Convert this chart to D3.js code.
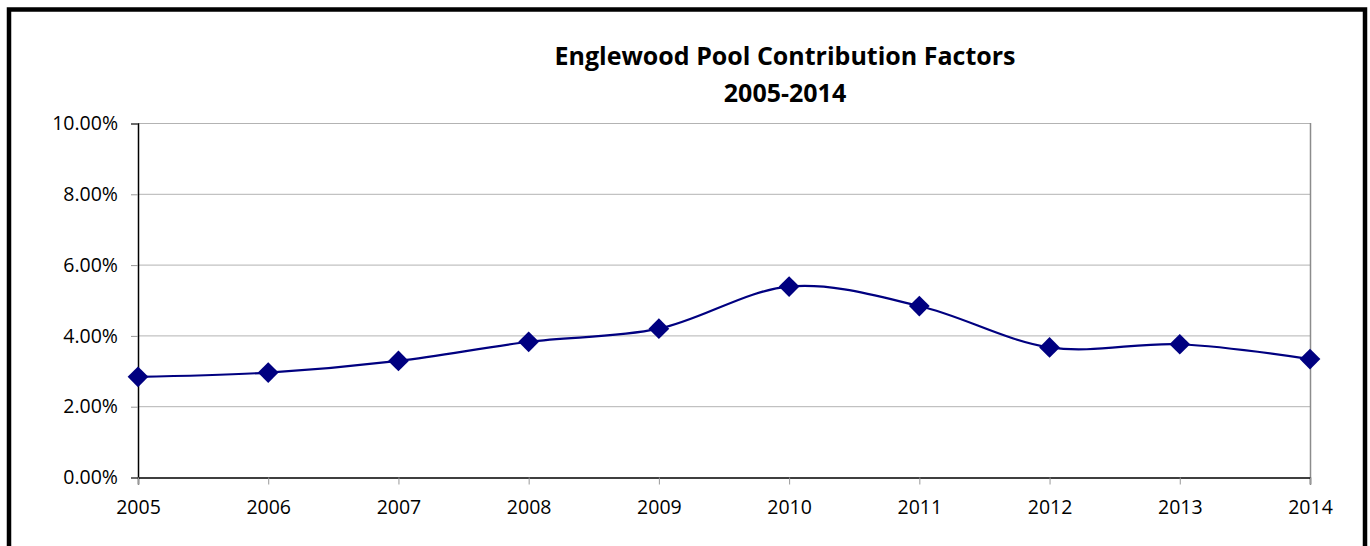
<!DOCTYPE html>
<html>
<head>
<meta charset="utf-8">
<script src="https://cdn.jsdelivr.net/npm/d3@7"></script>
<style>
  body { margin: 0; background: #fff; }
  svg { display: block; }
  svg text { font-family: "Open Sans", Lato, sans-serif; }
</style>
</head>
<body>
<script>
// chart data
var years = [2005, 2006, 2007, 2008, 2009, 2010, 2011, 2012, 2013, 2014];
var factors = [2.83, 2.95, 3.28, 3.82, 4.19, 5.38, 4.83, 3.66, 3.75, 3.33];
var yTicks = [0, 2, 4, 6, 8, 10];
var titleLines = ["Englewood Pool Contribution Factors", "2005-2014"];

var W = 1370, H = 546;
var plot = {left: 138, right: 1310, top: 123, bottom: 477};

var svg = d3.select("body").append("svg")
    .attr("width", W)
    .attr("height", H);

// outer frame (bottom edge runs off the picture)
svg.append("rect")
    .attr("x", 9).attr("y", 9.5)
    .attr("width", 1356).attr("height", 600)
    .attr("fill", "none")
    .attr("stroke", "#000")
    .attr("stroke-width", 4.5);

var x = d3.scaleLinear()
    .domain([years[0], years[years.length - 1]])
    .range([plot.left, plot.right]);

var y = d3.scaleLinear()
    .domain([0, 10])
    .range([plot.bottom, plot.top]);

// gridlines
svg.append("g")
  .selectAll("line")
  .data(yTicks.filter(d => d > 0))
  .enter().append("line")
    .attr("x1", plot.left).attr("x2", plot.right)
    .attr("y1", d => y(d) + 0.5).attr("y2", d => y(d) + 0.5)
    .attr("stroke", "#b3b3b3")
    .attr("stroke-width", 1);

// right edge of plot area
svg.append("line")
    .attr("x1", plot.right + 0.5).attr("x2", plot.right + 0.5)
    .attr("y1", plot.top).attr("y2", plot.bottom)
    .attr("stroke", "#8c8c8c")
    .attr("stroke-width", 1.5);

// y axis
var yAxis = svg.append("g")
    .attr("transform", "translate(" + plot.left + ",0.5)")
    .call(d3.axisLeft(y)
      .tickValues(yTicks)
      .tickSize(7)
      .tickPadding(13)
      .tickFormat(d => d.toFixed(2) + "%"));
yAxis.attr("font-family", null).attr("font-size", null);
yAxis.select(".domain").attr("stroke", "#000").attr("stroke-width", 1.5);
yAxis.selectAll(".tick line").attr("stroke", "#999");
yAxis.selectAll("text")
    .attr("font-size", 19.5)
    .attr("fill", "#000");

// x axis
var xAxis = svg.append("g")
    .attr("transform", "translate(0," + (plot.bottom + 0.5) + ")")
    .call(d3.axisBottom(x)
      .tickValues(years)
      .tickSize(7)
      .tickPadding(16)
      .tickFormat(d3.format("d")));
xAxis.attr("font-family", null).attr("font-size", null);
xAxis.select(".domain").attr("stroke", "#000").attr("stroke-width", 1.5);
xAxis.selectAll(".tick line").attr("stroke", "#999");
xAxis.selectAll("text")
    .attr("font-size", 19.5)
    .attr("fill", "#000");

// smoothed line
var line = d3.line()
    .x((d, i) => x(years[i]))
    .y(d => y(d))
    .curve(d3.curveCardinal.tension(0));

svg.append("path")
    .datum(factors)
    .attr("d", line)
    .attr("fill", "none")
    .attr("stroke", "#000080")
    .attr("stroke-width", 2.2);

// diamond markers
svg.append("g")
  .selectAll("path")
  .data(factors)
  .enter().append("path")
    .attr("d", d3.symbol(d3.symbolSquare, 215))
    .attr("transform", (d, i) => "translate(" + x(years[i]) + "," + y(d) + ") rotate(45)")
    .attr("fill", "#000080");

// title
svg.append("text")
    .attr("x", 785)
    .attr("y", 65)
    .attr("text-anchor", "middle")
    .attr("font-size", 25)
    .attr("font-weight", "bold")
  .selectAll("tspan")
  .data(titleLines)
  .enter().append("tspan")
    .attr("x", 785)
    .attr("dy", (d, i) => i === 0 ? 0 : 37)
    .text(d => d);
</script>
</body>
</html>
